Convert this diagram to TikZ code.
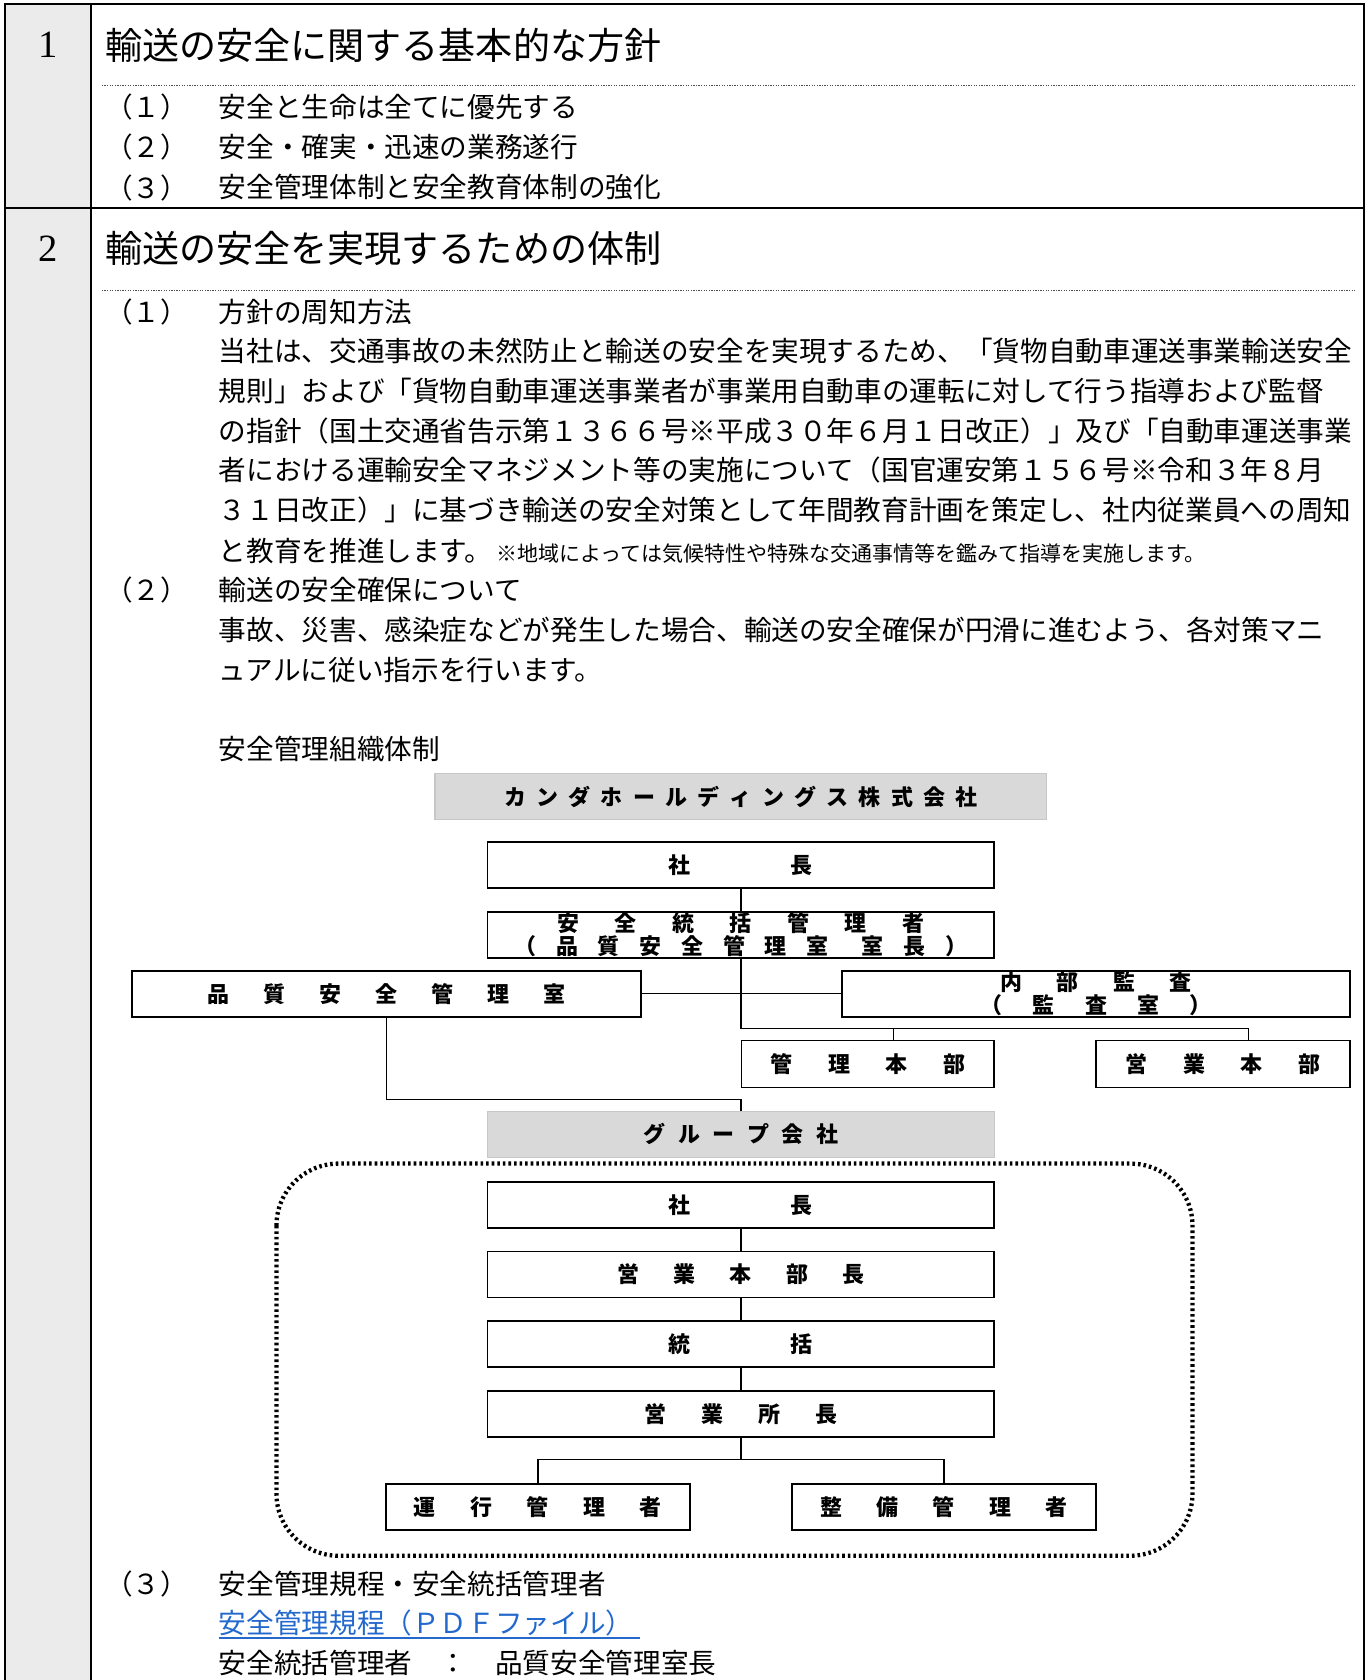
\documentclass[tikz,border=0pt]{standalone}
\usepackage{fontspec}
\setmainfont{Noto Sans CJK JP}
\newfontfamily\numfont{Liberation Serif}
\definecolor{colgray}{RGB}{235,235,235}
\definecolor{boxgray}{RGB}{217,217,217}
\definecolor{linkblue}{RGB}{35,105,205}
\makeatletter
\newcommand\gapped[2]{\def\gp@sep{}\@tfor\gp@c:=#2\do{\gp@sep\gp@c\def\gp@sep{\hspace{#1}}}}
\makeatother
\begin{document}
\begin{tikzpicture}[x=1pt, y=-1pt,
  body/.style={anchor=west, inner sep=0pt, font=\fontsize{25.8}{30}\selectfont},
  head/.style={anchor=west, inner sep=0pt, font=\fontsize{34.6}{40}\selectfont},
  secnum/.style={inner sep=0pt, font=\numfont\fontsize{36}{40}\selectfont},
  orgbox/.style={draw, line width=1.5pt, inner sep=0pt, minimum height=43pt, font=\bfseries\fontsize{20.5}{21}\selectfont, align=center},
  graybox/.style={orgbox, fill=boxgray, draw=black!22, line width=1pt},
  conn/.style={line width=1.2pt},
  dotline/.style={line width=0.8pt, dash pattern=on 1.2pt off 1.2pt, black!70}]
  \useasboundingbox (0,0) rectangle (1276,1568);

  % 表の枠
  \fill[colgray] (5,4) rectangle (85,1568);
  \draw[line width=2pt] (5,1568) -- (5,4) -- (1273,4) -- (1273,1568);
  \draw[line width=2pt] (85,4) -- (85,1568);
  \draw[line width=2pt] (5,194) -- (1273,194);

  % 1 基本的な方針
  \node[secnum] (n1) at (45,42) {1};
  \node[head] (h1) at (98,42) {輸送の安全に関する基本的な方針};
  \draw[dotline] (95,80) -- (1265,80);
  \node[body] (k1a) at (98,100) {（１）};
  \node[body] (t1a) at (204,100) {安全と生命は全てに優先する};
  \node[body] (k1b) at (98,137) {（２）};
  \node[body] (t1b) at (204,137) {安全・確実・迅速の業務遂行};
  \node[body] (k1c) at (98,175) {（３）};
  \node[body] (t1c) at (204,175) {安全管理体制と安全教育体制の強化};

  % 2 体制
  \node[secnum] (n2) at (45,232) {2};
  \node[head] (h2) at (98,232) {輸送の安全を実現するための体制};
  \draw[dotline] (95,271) -- (1265,271);
  \node[body] (k2a) at (98,291) {（１）};
  \node[body] (t2a) at (204,291) {方針の周知方法};
  \node[body] (l1) at (204,328) {当社は、交通事故の未然防止と輸送の安全を実現するため、「貨物自動車運送事業輸送安全};
  \node[body] (l2) at (204,365) {規則」および「貨物自動車運送事業者が事業用自動車の運転に対して行う指導および監督};
  \node[body] (l3) at (204,402) {の指針（国土交通省告示第１３６６号※平成３０年６月１日改正）」及び「自動車運送事業};
  \node[body] (l4) at (204,439) {者における運輸安全マネジメント等の実施について（国官運安第１５６号※令和３年８月};
  \node[body] (l5) at (204,476) {３１日改正）」に基づき輸送の安全対策として年間教育計画を策定し、社内従業員への周知};
  \node[body] (l6) at (204,514) {と教育を推進します。};
  \node[anchor=base west, inner sep=0pt, font=\fontsize{19.6}{22}\selectfont] (note) at ([xshift=3pt]l6.base east) {※地域によっては気候特性や特殊な交通事情等を鑑みて指導を実施します。};
  \node[body] (k2b) at (98,551) {（２）};
  \node[body] (t2b) at (204,551) {輸送の安全確保について};
  \node[body] (m1) at (204,588) {事故、災害、感染症などが発生した場合、輸送の安全確保が円滑に進むよう、各対策マニ};
  \node[body] (m2) at (204,625) {ュアルに従い指示を行います。};
  \node[body] (t2c) at (204,699) {安全管理組織体制};

  % 組織図 本社
  \node[graybox, minimum width=571pt] (kanda) at (691.5,743.5) {\gapped{9.6pt}{カンダホールディングス株式会社}};
  \node[orgbox, minimum width=473pt] (shacho) at (691.5,807.5) {\gapped{93.5pt}{社長}};
  \node[orgbox, minimum width=473pt] (touka) at (691.5,872.5) {\gapped{33.2pt}{安全統括管理者}\\\gapped{18.5pt}{（品質安全管理室}\hspace{31pt}\gapped{18.5pt}{室長）}};
  \node[orgbox, minimum width=475pt] (hinshitsu) at (360.5,927.5) {\gapped{31.7pt}{品質安全管理室}};
  \node[orgbox, minimum width=474pt] (kansa) at (1023,927.5) {\gapped{32.2pt}{内部監査}\\\gapped{28.2pt}{（監査室）}};
  \node[orgbox, minimum width=236pt, minimum height=44pt] (kanri) at (810,993) {\gapped{33.2pt}{管理本部}};
  \node[orgbox, minimum width=237pt, minimum height=44pt] (eigyo) at (1141.5,993) {\gapped{33.2pt}{営業本部}};
  \coordinate (bus) at (691.5,960);
  \coordinate (elbow) at (691.5,1026);
  \draw[conn] (shacho) -- (touka);
  \draw[conn] (hinshitsu) -- (kansa);
  \draw[conn] (touka.south) -- (bus) -| ([xshift=24pt]eigyo.north);
  \draw[conn] ([xshift=24pt]kanri.north) |- (bus);

  % グループ会社
  \node[graybox, minimum width=473pt] (group) at (691.5,1058.5) {\gapped{11.7pt}{グループ会社}};
  \draw[conn] (hinshitsu.south) |- (elbow) -- (group.north);
  \draw[line width=4pt, dash pattern=on 2.4pt off 2.8pt, rounded corners=58pt] (258,1086) rectangle (1113,1452);
  \node[orgbox, minimum width=473pt] (gshacho) at (691.5,1124.5) {\gapped{93.5pt}{社長}};
  \node[orgbox, minimum width=473pt] (ghonbu) at (691.5,1189.5) {\gapped{32pt}{営業本部長}};
  \node[orgbox, minimum width=473pt] (gtouka) at (691.5,1254.5) {\gapped{93.5pt}{統括}};
  \node[orgbox, minimum width=473pt] (gshocho) at (691.5,1319.5) {\gapped{32.5pt}{営業所長}};
  \node[orgbox, minimum width=284pt] (unko) at (502,1406.5) {\gapped{32.2pt}{運行管理者}};
  \node[orgbox, minimum width=284pt] (seibi) at (881,1406.5) {\gapped{32.2pt}{整備管理者}};
  \coordinate (fork) at (691.5,1362);
  \draw[conn] (gshacho) -- (ghonbu);
  \draw[conn] (ghonbu) -- (gtouka);
  \draw[conn] (gtouka) -- (gshocho);
  \draw[conn] (gshocho.south) -- (fork) -| (unko.north);
  \draw[conn] (fork) -| (seibi.north);

  % (3) 安全管理規程
  \node[body] (k2c) at (98,1478) {（３）};
  \node[body] (t2d) at (204,1478) {安全管理規程・安全統括管理者};
  \node[body, text=linkblue] (lnk) at (204,1515) {安全管理規程（ＰＤＦファイル）};
  \draw[linkblue, line width=2pt] ([yshift=-1pt]lnk.south west) -- ([xshift=6pt,yshift=-1pt]lnk.south east);
  \node[body] (t2e) at (204,1552) {安全統括管理者　：　品質安全管理室長};
\end{tikzpicture}
\end{document}
